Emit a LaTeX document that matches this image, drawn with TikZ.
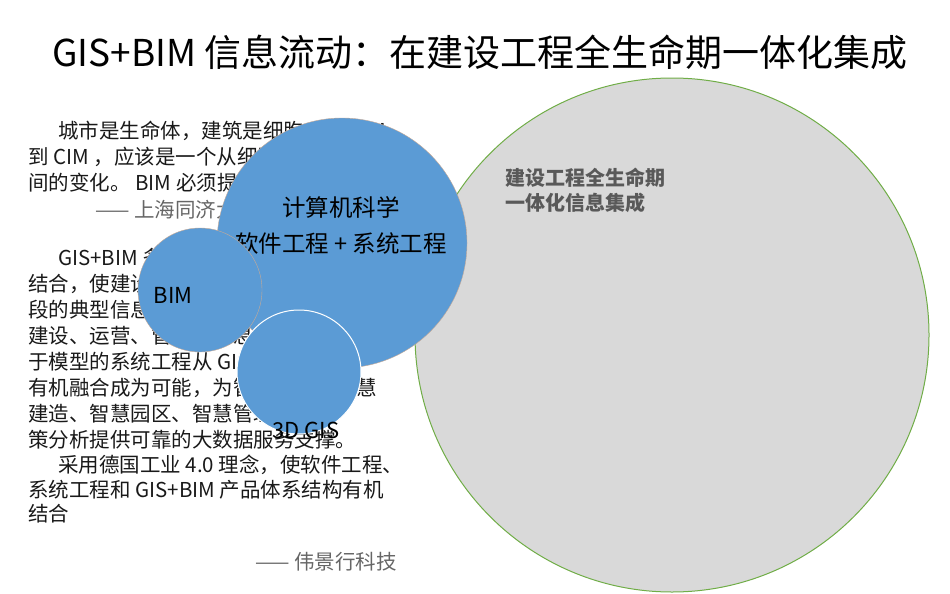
\documentclass[tikz,border=0pt]{standalone}
\usepackage{fontspec}
\setmainfont{Noto Sans CJK SC}
\begin{document}
\begin{tikzpicture}[x=1pt,y=-1pt,
  body/.style={anchor=west,inner sep=0pt,font=\fontsize{20.5}{24}\selectfont,text=black!90},
  blue/.style={circle,fill={rgb,255:red,91;green,155;blue,213}}]
\useasboundingbox (0,0) rectangle (950,594);
\node[font=\fontsize{37}{40}\selectfont] (title) at (480,52) {GIS+BIM 信息流动：在建设工程全生命期一体化集成};
% text
\node[body] (a1) at (58,131) {城市是生命体，建筑是细胞。从 BIM};
\node[body] (a2) at (28,157) {到 CIM ，应该是一个从细胞到生命体的空};
\node[body] (a3) at (28,183) {间的变化。 BIM 必须提升到 CIM。};
\node[body,text=black!60] (a4) at (95,210) {—— 上海同济大学};
\node[body] (b1) at (58,258) {GIS+BIM 多源数据与系统工程的有机};
\node[body] (b2) at (28,284) {结合，使建设工程全生命期各个阶};
\node[body] (b3) at (28,310) {段的典型信息，包括规划、设计、};
\node[body] (b4) at (28,336) {建设、运营、管理等信息，通过基};
\node[body] (b5) at (28,362) {于模型的系统工程从 GIS+BIM 的};
\node[body] (b6) at (28,388) {有机融合成为可能，为智慧城市、智慧};
\node[body] (b7) at (28,414) {建造、智慧园区、智慧管理、决};
\node[body] (b8) at (28,440) {策分析提供可靠的大数据服务支撑。};
\node[body] (b9) at (58,465) {采用德国工业 4.0 理念，使软件工程、};
\node[body] (b10) at (28,490) {系统工程和 GIS+BIM 产品体系结构有机};
\node[body] (b11) at (28,514) {结合};
\node[body,text=black!60] (q2) at (255,562) {—— 伟景行科技};
% circles
\node[circle,draw={rgb,255:red,112;green,173;blue,71},line width=1pt,fill={rgb,255:red,217;green,217;blue,217},minimum size=514pt,inner sep=0pt] (big) at (672,335) {};
\node[anchor=west,align=left,font=\bfseries\fontsize{20}{25}\selectfont,text=black!65] (bigl) at (502,190) {建设工程全生命期\\一体化信息集成};
\node[blue,draw={rgb,255:red,200;green,170;blue,150},minimum size=250pt,inner sep=0pt] (cs) at (342,243) {};
\node[font=\fontsize{23.5}{36}\selectfont,align=center] (csl) at (341,225) {计算机科学\\软件工程 + 系统工程};
\node[blue,draw={rgb,255:red,200;green,170;blue,150},minimum size=124pt,inner sep=0pt] (bim) at (200,290) {};
\node[font=\fontsize{22}{24}\selectfont] (biml) at (173,295) {BIM};
\node[blue,draw=white,line width=1pt,minimum size=124pt,inner sep=0pt] (gis) at (299,372) {};
\node[font=\fontsize{22}{24}\selectfont] (gisl) at (306,430) {3D GIS};
\end{tikzpicture}
\end{document}
